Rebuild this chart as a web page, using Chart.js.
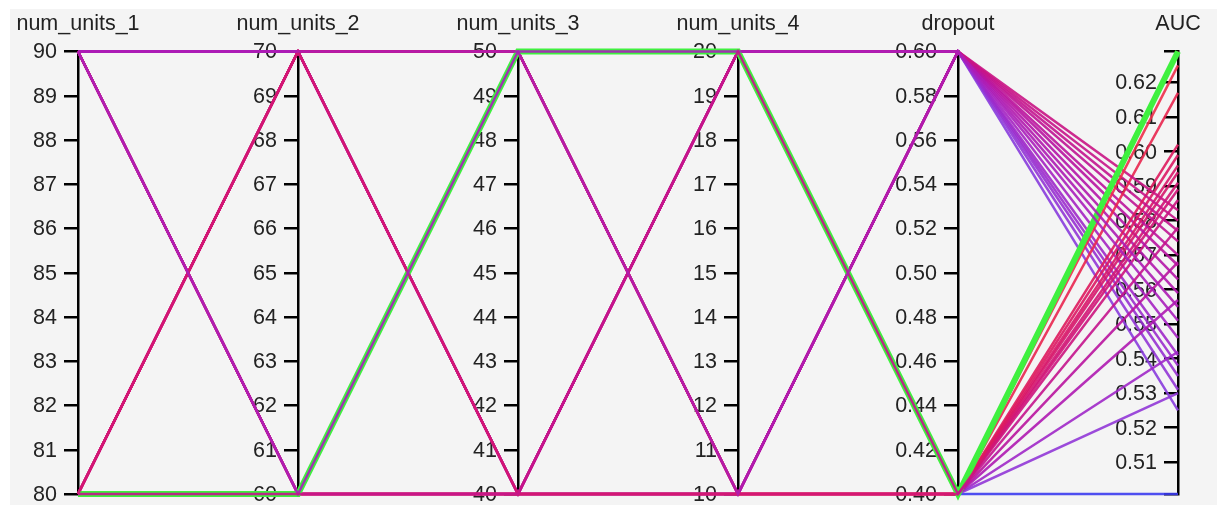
<!DOCTYPE html>
<html>
<head>
<meta charset="utf-8">
<script src="https://cdn.jsdelivr.net/npm/chart.js@4.4.1/dist/chart.umd.min.js"></script>
<style>
  html, body { margin: 0; padding: 0; background: #fff; }
  #frame { position: absolute; left: 10px; top: 9px; width: 1207px; height: 496px; background: #f4f4f4; }
  #plot { position: absolute; left: 0; top: 0; }
</style>
</head>
<body>
<div id="frame"></div>
<canvas id="plot" width="1217" height="505"></canvas>
<script>
// column names, left to right
const axisNames = ["num_units_1", "num_units_2", "num_units_3", "num_units_4", "dropout", "AUC"];

// one entry per trial (same index in every column)
const numUnits1 = [90, 80, 90, 80, 80, 80, 80, 80, 80, 80, 80, 80, 80, 80, 80, 90,
                   80, 90, 80, 90, 80, 90, 90, 90, 90, 90, 90, 90, 90, 90, 90, 90];
const numUnits2 = [70, 60, 60, 70, 60, 60, 60, 60, 60, 70, 60, 70, 60, 70, 70, 60,
                   70, 60, 70, 60, 70, 60, 60, 70, 60, 70, 60, 70, 70, 70, 70, 70];
const numUnits3 = [50, 40, 50, 40, 50, 40, 40, 50, 40, 40, 50, 50, 50, 50, 40, 40,
                   40, 40, 50, 50, 50, 50, 40, 40, 40, 40, 50, 50, 40, 50, 40, 50];
const numUnits4 = [10, 20, 20, 10, 20, 10, 10, 10, 20, 20, 10, 10, 20, 20, 10, 10,
                   20, 20, 10, 10, 20, 20, 10, 10, 20, 20, 10, 10, 10, 20, 20, 20];
const dropout   = [0.6, 0.4, 0.6, 0.4, 0.4, 0.4, 0.6, 0.4, 0.6, 0.4, 0.6, 0.4, 0.6, 0.4, 0.6, 0.4,
                   0.6, 0.4, 0.6, 0.4, 0.6, 0.4, 0.6, 0.4, 0.6, 0.4, 0.6, 0.4, 0.6, 0.4, 0.6, 0.6];
const auc       = [0.555, 0.578, 0.551, 0.589, 0.629, 0.625, 0.583, 0.617, 0.580, 0.602,
                   0.577, 0.599, 0.574, 0.596, 0.570, 0.594, 0.567, 0.591, 0.563, 0.586,
                   0.559, 0.568, 0.546, 0.557, 0.541, 0.542, 0.538, 0.530, 0.535, 0.5008,
                   0.531, 0.525];

// tick labels for each axis
const ticksUnits1 = [80, 81, 82, 83, 84, 85, 86, 87, 88, 89, 90];
const ticksUnits2 = [60, 61, 62, 63, 64, 65, 66, 67, 68, 69, 70];
const ticksUnits3 = [40, 41, 42, 43, 44, 45, 46, 47, 48, 49, 50];
const ticksUnits4 = [10, 11, 12, 13, 14, 15, 16, 17, 18, 19, 20];
const ticksDropout = [0.40, 0.42, 0.44, 0.46, 0.48, 0.50, 0.52, 0.54, 0.56, 0.58, 0.60];
const ticksAuc = [0.51, 0.52, 0.53, 0.54, 0.55, 0.56, 0.57, 0.58, 0.59, 0.60, 0.61, 0.62];

const columns = [numUnits1, numUnits2, numUnits3, numUnits4, dropout, auc];
const tickLists = [ticksUnits1, ticksUnits2, ticksUnits3, ticksUnits4, ticksDropout, ticksAuc];
const decimals = [0, 0, 0, 0, 2, 2];
const ranges = columns.map(col => [Math.min(...col), Math.max(...col)]);

const FONT = { family: "Liberation Sans", size: 21.5 };
const TEXT = "#222";
const TICK_LEN = 13;

// every axis shares one hidden 0..1 scale for the polylines
function norm(c, v) {
    const [lo, hi] = ranges[c];
    return (v - lo) / (hi - lo);
}
function trialPoints(k) {
    return columns.map((col, c) => norm(c, col[k]));
}

// blue -> violet -> magenta -> red along the AUC range
const colorStops = [
    [0.0, [60, 60, 240]],
    [0.2, [140, 60, 220]],
    [0.35, [165, 35, 195]],
    [0.5, [182, 20, 165]],
    [0.65, [202, 20, 130]],
    [0.8, [224, 25, 90]],
    [1.0, [240, 50, 70]],
];
function lineColor(v) {
    const t = norm(5, v);
    for (let i = 1; i < colorStops.length; i++) {
        const [t1, c1] = colorStops[i];
        const [t0, c0] = colorStops[i - 1];
        if (t <= t1) {
            const f = (t - t0) / (t1 - t0);
            const rgb = c0.map((a, j) => Math.round(a + (c1[j] - a) * f));
            return `rgba(${rgb.join(",")},0.9)`;
        }
    }
    return "rgba(240,50,70,0.9)";
}

const datasets = auc.map((v, k) => ({
    data: trialPoints(k),
    yAxisID: "y",
    borderColor: lineColor(v),
    borderWidth: 2.5,
    pointRadius: 0,
    tension: 0,
    clip: false,
}));

// best trial in green; it sits below the first four trials so their thin
// strokes still show on the shared segments
const best = auc.indexOf(Math.max(...auc));
datasets.splice(4, 0, {
    data: trialPoints(best),
    yAxisID: "y",
    borderColor: "#3ff03f",
    borderWidth: 6,
    pointRadius: 0,
    tension: 0,
    clip: false,
});

// tick labels sit left of each axis, under the lines
const axisLabels = {
    id: "axisLabels",
    beforeDatasetsDraw(chart) {
        const ctx = chart.ctx;
        ctx.save();
        ctx.font = `${FONT.size}px "${FONT.family}"`;
        ctx.fillStyle = TEXT;
        ctx.textAlign = "right";
        ctx.textBaseline = "middle";
        axisNames.forEach((name, i) => {
            const s = chart.scales["axis" + i];
            const x = chart.scales.x.getPixelForValue(i) - TICK_LEN - 8;
            tickLists[i].forEach(v => {
                ctx.fillText(v.toFixed(decimals[i]), x, s.getPixelForValue(v) + 1);
            });
        });
        ctx.restore();
    },
};

const scales = {
    x: {
        type: "category",
        position: "top",
        grid: { display: false, drawTicks: false },
        border: { display: false },
        ticks: { font: FONT, color: TEXT, padding: 15, maxRotation: 0, autoSkip: false },
        afterFit: s => { s.height = 42; },
    },
    y: { display: false, min: 0, max: 1 },
};

axisNames.forEach((name, i) => {
    const [lo, hi] = ranges[i];
    const list = tickLists[i];
    scales["axis" + i] = {
        type: "linear",
        axis: "y",
        position: { x: i },
        min: lo,
        max: hi,
        grid: { display: true, drawOnChartArea: false, drawTicks: true, tickLength: TICK_LEN, color: "#000", lineWidth: 2.5 },
        border: { display: true, color: "#000", width: 2.5 },
        ticks: { display: false, autoSkip: false },
        afterBuildTicks: s => {
            const vals = [lo, ...list.filter(t => t > lo && t < hi), hi];
            s.ticks = vals.map(v => ({ value: v }));
        },
        afterFit: s => {
            s.paddingTop = 0;
            s.paddingBottom = 0;
            s.paddingLeft = 0;
            s.paddingRight = 0;
        },
    };
});

new Chart(document.getElementById("plot"), {
    type: "line",
    data: { labels: axisNames, datasets: datasets },
    options: {
        responsive: false,
        animation: false,
        layout: { padding: { left: 78, right: 39, top: 9.5, bottom: 11 } },
        plugins: { legend: { display: false }, tooltip: { enabled: false } },
        scales: scales,
    },
    plugins: [axisLabels],
});
</script>
</body>
</html>
